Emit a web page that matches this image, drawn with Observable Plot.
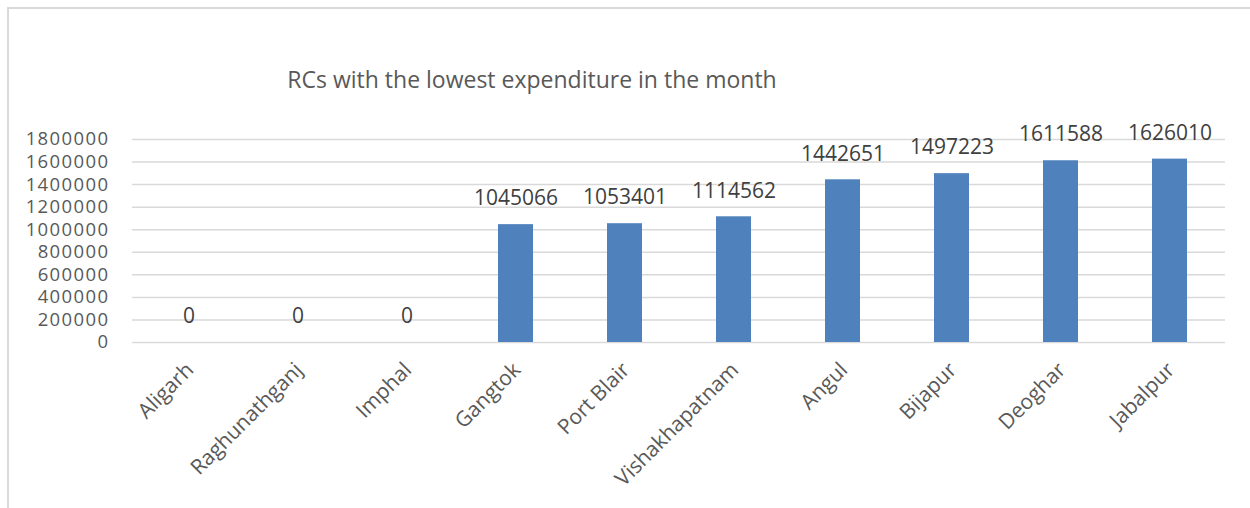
<!DOCTYPE html>
<html><head><meta charset="utf-8">
<script src="https://cdn.jsdelivr.net/npm/d3@7"></script>
<script src="https://cdn.jsdelivr.net/npm/@observablehq/plot@0.6"></script>
<style>
body{margin:0;background:#fff;font-family:"Open Sans",sans-serif;}
#wrap{position:relative;width:1250px;height:508px;overflow:hidden;background:#fff;}
#frame{position:absolute;left:7px;top:7px;width:1300px;height:600px;border-left:2px solid #d9d9d9;border-top:2px solid #d9d9d9;box-sizing:border-box;}
#title{position:absolute;left:0;top:64px;width:1064px;text-align:center;font-size:23px;line-height:30px;color:#595959;}
#chart{position:absolute;left:0;top:100px;}
</style></head>
<body>
<div id="wrap">
  <div id="frame"></div>
  <div id="title">RCs with the lowest expenditure in the month</div>
  <div id="chart"></div>
</div>
<script>
const categories = ["Aligarh","Raghunathganj","Imphal","Gangtok","Port Blair","Vishakhapatnam","Angul","Bijapur","Deoghar","Jabalpur"];
const values = [0,0,0,1045066,1053401,1114562,1442651,1497223,1611588,1626010];
const yTicks = [0,200000,400000,600000,800000,1000000,1200000,1400000,1600000,1800000];

const data = categories.map((c,i)=>({name:c, value:values[i]}));

const chart = Plot.plot({
  width: 1250,
  height: 408,
  marginTop: 39,
  marginBottom: 166,
  marginLeft: 132,
  marginRight: 25,
  style: {fontFamily: '"Open Sans", sans-serif', background: "transparent"},
  x: {domain: categories, paddingInner: 0.68, paddingOuter: 0.34, label: null},
  y: {domain: [0, 1800000], label: null},
  marks: [
    Plot.gridY(yTicks, {stroke: "#d9d9d9", strokeWidth: 1.5, strokeOpacity: 1}),
    Plot.barY(data, {x: "name", y: "value", fill: "#4f81bd"}),
    Plot.text(data, {x: "name", y: "value", text: d => String(d.value), dy: -26, fontSize: 21, fill: "#404040"}),
    Plot.axisY(yTicks, {tickSize: 0, tickPadding: 23, fontSize: 18.5, fill: "#595959", tickFormat: d => String(d), label: null}),
    Plot.axisX({tickRotate: -45, tickSize: 0, tickPadding: 24, dx: 1, fontSize: 21, fill: "#595959", label: null})
  ]
});
chart.querySelectorAll('[aria-label="y-axis tick label"] text').forEach(t => t.setAttribute("letter-spacing", "1.4"));
document.getElementById("chart").appendChild(chart);
</script>
</body></html>
